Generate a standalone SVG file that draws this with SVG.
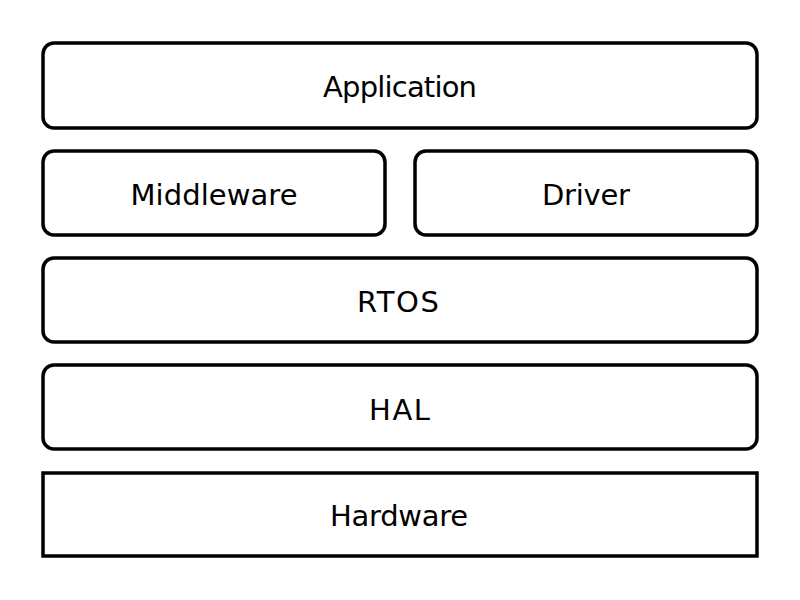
<svg xmlns="http://www.w3.org/2000/svg" width="800" height="600" viewBox="0 0 800 600">
<style>
.box{fill:#fff;stroke:#000;stroke-width:3.5}
.lbl{font-family:"DejaVu Sans","Noto Sans",sans-serif;font-size:29px;fill:#000;text-anchor:middle}
</style>
<rect width="800" height="600" fill="#fff"/>
<g id="application"><rect class="box" x="43" y="43" width="714" height="85" rx="11"/><text class="lbl" x="400" y="97" textLength="154">Application</text></g>
<g id="middleware"><rect class="box" x="43" y="151" width="342" height="84" rx="11"/><text class="lbl" x="214" y="205" textLength="167">Middleware</text></g>
<g id="driver"><rect class="box" x="415" y="151" width="342" height="84" rx="11"/><text class="lbl" x="586" y="205" textLength="88">Driver</text></g>
<g id="rtos"><rect class="box" x="43" y="258" width="714" height="84" rx="11"/><text class="lbl" x="398" y="312" textLength="82">RTOS</text></g>
<g id="hal"><rect class="box" x="43" y="365" width="714" height="84" rx="11"/><text class="lbl" x="399.5" y="420" textLength="61">HAL</text></g>
<g id="hardware"><rect class="box" x="43" y="473" width="714" height="83"/><text class="lbl" x="399" y="526" textLength="138">Hardware</text></g>
<g id="connectors"></g>
</svg>
